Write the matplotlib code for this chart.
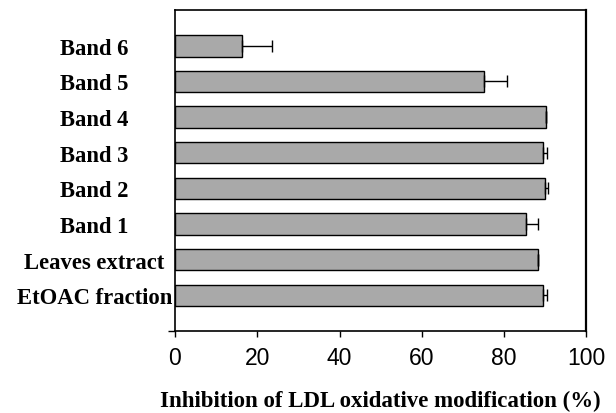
import numpy as np
import matplotlib
matplotlib.use('Agg')
import matplotlib.pyplot as plt

# categories from bottom to top
labels = ['EtOAC fraction', 'Leaves extract', 'Band 1', 'Band 2',
          'Band 3', 'Band 4', 'Band 5', 'Band 6']
inhibition = [89.5, 88.3, 85.3, 89.9, 89.5, 90.1, 75.2, 16.4]
errors = [0.9, 0.0, 2.9, 0.7, 0.8, 0.0, 5.4, 7.3]

fig = plt.figure(figsize=(6.16, 4.14), dpi=100)
ax = fig.add_axes([0.284, 0.198, 0.668, 0.775])

ypos = np.arange(1, len(labels) + 1)
ax.barh(ypos, inhibition, height=0.6, color='#a9a9a9', edgecolor='black',
        linewidth=1.0, zorder=2)

# one-sided error bars
lower = np.zeros(len(errors))
ax.errorbar(inhibition, ypos, xerr=[lower, errors], fmt='none',
            ecolor='black', elinewidth=1.0, capsize=4, capthick=1.0, zorder=3)

ax.set_xlim(0, 100)
ax.set_ylim(0, 9)
ax.set_xticks(range(0, 101, 20))
ax.tick_params(axis='x', direction='out', length=4, width=1.0, pad=7,
               labelsize=16.5)
for lab in ax.get_xticklabels():
    lab.set_fontfamily('Liberation Sans')

ax.set_yticks(ypos)
ax.set_yticklabels(labels, fontfamily='Liberation Serif', fontweight='bold',
                   fontsize=16.3, ha='center')
ax.tick_params(axis='y', which='major', length=0, pad=58)
ax.set_yticks([0, 2, 4, 6, 8], minor=True)
ax.tick_params(axis='y', which='minor', length=5, width=1.0, direction='out')

for side in ['left', 'bottom', 'top']:
    ax.spines[side].set_linewidth(1.2)
ax.spines['right'].set_linewidth(1.6)

ax.set_xlabel('Inhibition of LDL oxidative modification (%)',
              fontfamily='Liberation Serif', fontweight='bold', fontsize=16.5,
              labelpad=15)

plt.savefig('out.png', dpi=100)
